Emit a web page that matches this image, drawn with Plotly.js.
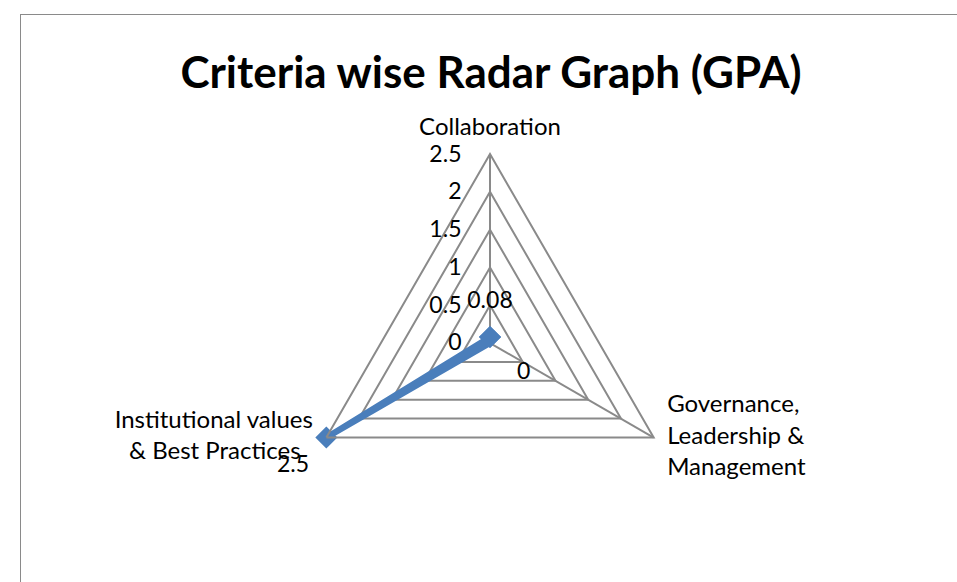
<!DOCTYPE html>
<html>
<head>
<meta charset="utf-8">
<script src="https://cdn.plot.ly/plotly-3.0.1.min.js"></script>
<style>
  body { margin: 0; background: #fff; overflow: hidden; }
  #radarChart {
    position: absolute; left: 20px; top: 14px;
    width: 940px; height: 580px;
    border: 1.5px solid #8a8a8a;
  }
</style>
</head>
<body>
<div id="radarChart"></div>
<script>
const criteria = ["Collaboration", "Governance,<br>Leadership &<br>Management", "Institutional values<br>& Best Practices"];
const categoryText = ["Collaboration", "Governance,<br>Leadership &<br>Management", "Institutional values<br>& Best Practices\u00a0\u00a0"];
const gpaValues = [0.08, 0, 2.5];
const valueLabels = ["0.08", "0", "2.5"];
const labelPositions = ["top center", "bottom right", "bottom left"];
const radialTicks = [0, 0.5, 1, 1.5, 2, 2.5];

function drawRadar(){
    const rMin = radialTicks[0];
    const rMax = radialTicks[radialTicks.length - 1];
    const polarDomain = { x: [0.2979, 0.7], y: [0.1086, 0.7603] };

    // close the loop back to the first criterion
    const seriesTrace = {
        type: "scatterpolar",
        r: gpaValues.concat(gpaValues[0]),
        theta: criteria.concat(criteria[0]),
        mode: "lines+markers",
        line: { color: "#4a7ebb", width: 6 },
        marker: { symbol: "diamond", size: 17, color: "#4a7ebb" },
        cliponaxis: false,
        showlegend: false,
        hoverinfo: "skip"
    };

    // one label trace per point; an invisible marker pushes the text off the point
    const valueTraces = gpaValues.map((v, i) => ({
        type: "scatterpolar",
        r: [v],
        theta: [criteria[i]],
        text: [valueLabels[i]],
        mode: "markers+text",
        marker: { size: v < rMax ? 36 : 26, opacity: 0 },
        textposition: labelPositions[i],
        textfont: { family: "Lato, sans-serif", size: 23, color: "#000" },
        cliponaxis: false,
        showlegend: false,
        hoverinfo: "skip"
    })).filter(t => t.r[0] > rMin);

    // plotly hides a point sitting exactly on r = 0, so label it at the polar centre
    const centreLabels = gpaValues.map((v, i) => ({ v, i })).filter(p => p.v === rMin).map(p => ({
        text: valueLabels[p.i],
        xref: "paper", yref: "paper",
        x: (polarDomain.x[0] + polarDomain.x[1]) / 2,
        y: (polarDomain.y[0] + polarDomain.y[1]) / 2,
        xanchor: "left", yanchor: "top",
        xshift: 25, yshift: -11,
        showarrow: false,
        font: { family: "Lato, sans-serif", size: 23, color: "#000" }
    }));

    // category names sit just outside the outer ring
    const categoryTrace = {
        type: "scatterpolar",
        r: criteria.map(() => rMax),
        theta: criteria,
        text: categoryText,
        mode: "markers+text",
        marker: { size: 20, opacity: 0 },
        textposition: ["top center", "middle right", "middle left"],
        textfont: { family: "Lato, sans-serif", size: 24, color: "#000" },
        cliponaxis: false,
        showlegend: false,
        hoverinfo: "skip"
    };

    Plotly.newPlot("radarChart", [seriesTrace, ...valueTraces, categoryTrace], {
        width: 940,
        height: 580,
        margin: { t: 0, r: 0, b: 0, l: 0 },
        paper_bgcolor: "#fff",
        font: { family: "Lato, sans-serif", size: 24, color: "#000" },
        title: {
            text: "<b>Criteria wise Radar Graph (GPA)</b>",
            font: { family: "Lato, sans-serif", size: 44, color: "#000" },
            x: 0.5, xanchor: "center",
            y: 0.9, yanchor: "middle"
        },
        annotations: centreLabels,
        polar: {
            domain: polarDomain,
            gridshape: "linear",
            bgcolor: "#fff",
            radialaxis: {
                range: [rMin, rMax],
                tickvals: radialTicks,
                ticktext: radialTicks.map(String),
                angle: 90,
                side: "counterclockwise",
                tickangle: 90,
                showline: false,
                ticks: "outside",
                ticklen: 20,
                tickcolor: "rgba(0,0,0,0)",
                gridcolor: "#8a8a8a",
                gridwidth: 2,
                tickfont: { size: 23 }
            },
            angularaxis: {
                rotation: 90,
                direction: "clockwise",
                categoryarray: criteria,
                linecolor: "#8a8a8a",
                linewidth: 2,
                gridcolor: "#8a8a8a",
                gridwidth: 2,
                ticks: "",
                showticklabels: false
            }
        }
    }, { displayModeBar: false });
}

document.addEventListener("DOMContentLoaded", drawRadar);
</script>
</body>
</html>
